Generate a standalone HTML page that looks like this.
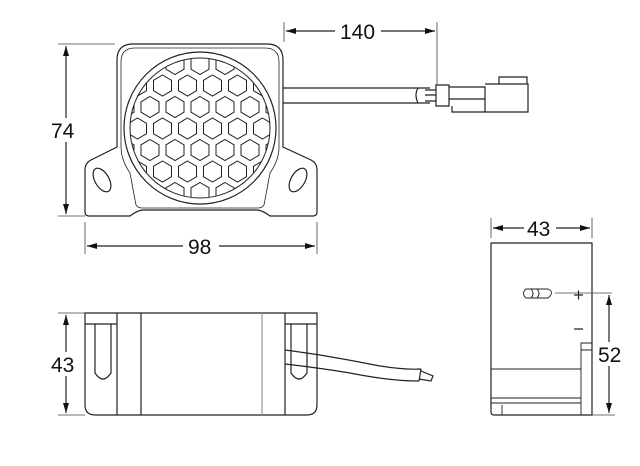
<!DOCTYPE html>
<html><head><style>html,body{margin:0;padding:0;background:#fff}svg{display:block}</style></head>
<body>
<svg width="640" height="466" viewBox="0 0 640 466" xmlns="http://www.w3.org/2000/svg" font-family="'Liberation Sans Narrow','Liberation Sans',sans-serif" font-size="21" fill="none" stroke="#222" stroke-width="1.2">
<defs>
<marker id="a" viewBox="0 0 10 6" refX="10" refY="3" markerWidth="10" markerHeight="6" orient="auto-start-reverse" markerUnits="userSpaceOnUse"><path d="M0,0L10,3L0,6z" fill="#111" stroke="none"/></marker>
<clipPath id="c"><circle cx="200" cy="128" r="70"/></clipPath>
<polygon id="h" points="0,-10.5 9,-5.2 9,5.2 0,10.5 -9,5.2 -9,-5.2"/>
</defs>
<!-- front view -->
<path d="M117,147 L117,60 Q117,44 133,44 L267,44 Q283,44 283,60 L283,147 L311,160 Q317,163 317,170 L317,212 Q317,216 313,216 L270,216 Q262,210 257,210 L143,210 Q138,210 130,216 L89,216 Q85,216 85,212 L85,170 Q85,163 91,160 Z"/>
<path d="M121,147 L121,62 Q121,48 135,48 L265,48 Q279,48 279,62 L279,147 Q279,160 270,173 L264,205 Q262,208 258,208 L142,208 Q138,208 136,205 L130,173 Q121,160 121,147 Z" stroke-width="0.8"/>
<ellipse cx="102" cy="180" rx="7" ry="13" transform="rotate(-30 102 180)"/>
<ellipse cx="298" cy="180" rx="7" ry="13" transform="rotate(30 298 180)"/>
<circle cx="200" cy="128" r="76"/>
<g clip-path="url(#c)" stroke-width="1">
<use href="#h" x="150" y="64"/><use href="#h" x="175" y="64"/><use href="#h" x="200" y="64"/><use href="#h" x="225" y="64"/><use href="#h" x="250" y="64"/>
<use href="#h" x="137.5" y="85.5"/><use href="#h" x="162.5" y="85.5"/><use href="#h" x="187.5" y="85.5"/><use href="#h" x="212.5" y="85.5"/><use href="#h" x="237.5" y="85.5"/><use href="#h" x="262.5" y="85.5"/>
<use href="#h" x="125" y="107"/><use href="#h" x="150" y="107"/><use href="#h" x="175" y="107"/><use href="#h" x="200" y="107"/><use href="#h" x="225" y="107"/><use href="#h" x="250" y="107"/><use href="#h" x="275" y="107"/>
<use href="#h" x="112.5" y="128.5"/><use href="#h" x="137.5" y="128.5"/><use href="#h" x="162.5" y="128.5"/><use href="#h" x="187.5" y="128.5"/><use href="#h" x="212.5" y="128.5"/><use href="#h" x="237.5" y="128.5"/><use href="#h" x="262.5" y="128.5"/><use href="#h" x="287.5" y="128.5"/>
<use href="#h" x="125" y="150"/><use href="#h" x="150" y="150"/><use href="#h" x="175" y="150"/><use href="#h" x="200" y="150"/><use href="#h" x="225" y="150"/><use href="#h" x="250" y="150"/><use href="#h" x="275" y="150"/>
<use href="#h" x="137.5" y="171.5"/><use href="#h" x="162.5" y="171.5"/><use href="#h" x="187.5" y="171.5"/><use href="#h" x="212.5" y="171.5"/><use href="#h" x="237.5" y="171.5"/><use href="#h" x="262.5" y="171.5"/>
<use href="#h" x="150" y="193"/><use href="#h" x="175" y="193"/><use href="#h" x="200" y="193"/><use href="#h" x="225" y="193"/><use href="#h" x="250" y="193"/>
</g>
<circle cx="200" cy="128" r="70" stroke-width="1"/>
<!-- cable + connector -->
<path d="M283,88 L430,88 M283,103 L430,103"/>
<path d="M418,88 Q414,95 418,103 M425,90 L436,90 M425,101 L436,101 M425,95 L436,95"/>
<path d="M436,85 L449,85 L449,106 L436,106 Z M449,87 L485,87 L485,112 L452,112 L452,106 M449,99 L485,99 M485,84 L528,84 L528,112 L485,112 M499,84 L499,77 L527,77 L527,84"/>
<!-- dims front -->
<g stroke="#444" stroke-width="0.8">
<path d="M58,44 L115,44 M58,216 L85,216 M85,222 L85,254 M317,222 L317,254 M284,22 L284,42 M437,22 L437,85"/>
</g>
<path d="M66,46 L66,214" marker-start="url(#a)" marker-end="url(#a)"/>
<path d="M87,246 L315,246" marker-start="url(#a)" marker-end="url(#a)"/>
<path d="M286,31 L435,31" marker-start="url(#a)" marker-end="url(#a)"/>
<g fill="#111" stroke="none">
<rect x="50" y="118" width="32" height="24" fill="#fff"/>
<text x="51" y="138">74</text>
<rect x="183" y="234" width="36" height="24" fill="#fff"/>
<text x="188" y="254">98</text>
<rect x="335" y="19" width="46" height="24" fill="#fff"/>
<text x="340" y="39">140</text>
</g>
<!-- side view -->
<path d="M85,313 L317,313 L317,405 Q317,415 307,415 L95,415 Q85,415 85,405 Z"/>
<path d="M117,313 L117,415 M141,313 L141,415 M285,313 L285,415 M85,324 L117,324 M285,324 L317,324 M95,324 L95,373 Q103,385 111,373 L111,324 M291,324 L291,373 Q299,385 307,373 L307,324"/>
<path d="M262,313 L262,415" stroke="#999"/>
<path d="M285,350 Q300,352 320,355 Q350,360 380,366 Q405,370 421,369 M285,364 Q320,368 350,373 Q390,381 419,381 M421,369 L419,381 M421,371 L433,376 L431,381 L419,379"/>
<path d="M58,313 L85,313 M58,415 L85,415" stroke="#444" stroke-width="0.8"/>
<path d="M66,315 L66,413" marker-start="url(#a)" marker-end="url(#a)"/>
<rect x="50" y="352" width="32" height="24" fill="#fff" stroke="none"/>
<text x="51" y="372" fill="#111" stroke="none">43</text>
<!-- right view -->
<path d="M491,243 L592,243 L592,415 L494,415 Q491,415 491,412 Z"/>
<path d="M581,415 L581,343 L592,343 M581,350 L592,350 M491,369 L581,369 M491,398 L581,398 M491,403 L581,403 M502,405 L502,415" stroke-width="0.9"/>
<path d="M526,289 L548,289 Q555,292 548,298 L526,298 Q521,293.5 526,289 Z M531,289 Q535,293.5 531,298 M537,289 Q541,293.5 537,298" stroke-width="0.9"/>
<path d="M555,293 L612,293" stroke="#444" stroke-width="0.8"/>
<path d="M574,295 L583,295 M578.5,290.5 L578.5,299.5 M574,329 L583,329" stroke-width="1.2"/>
<path d="M491,218 L491,238 M592,218 L592,238 M592,415 L615,415" stroke="#444" stroke-width="0.8"/>
<path d="M493,228 L590,228" marker-start="url(#a)" marker-end="url(#a)"/>
<path d="M609,295 L609,413" marker-start="url(#a)" marker-end="url(#a)"/>
<rect x="524" y="216" width="32" height="24" fill="#fff" stroke="none"/>
<text x="527" y="236" fill="#111" stroke="none">43</text>
<rect x="596" y="342" width="32" height="24" fill="#fff" stroke="none"/>
<text x="598" y="362" fill="#111" stroke="none">52</text>
</svg>
</body></html>
